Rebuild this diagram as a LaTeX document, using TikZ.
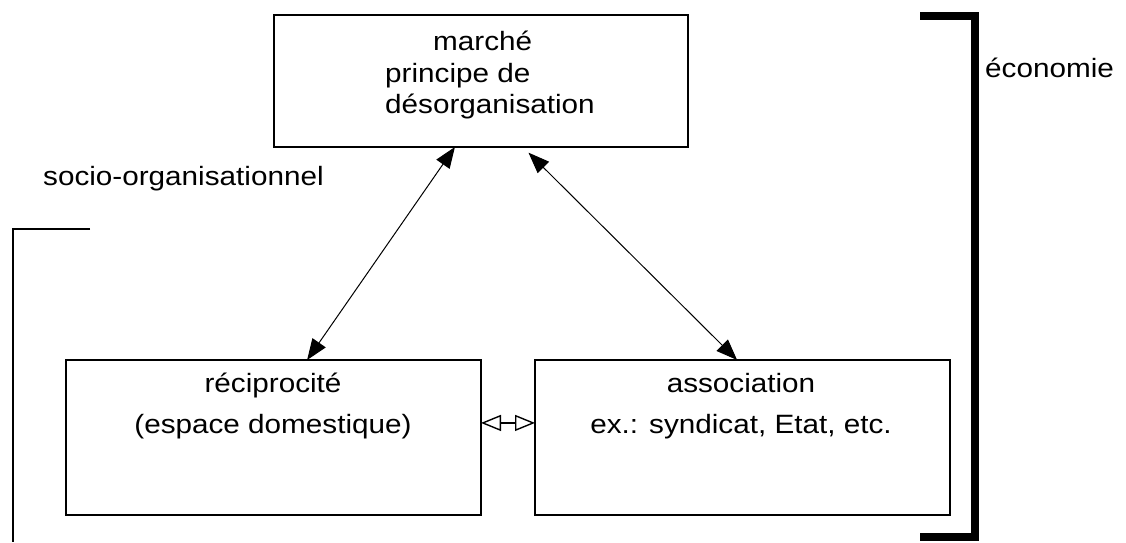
\documentclass[tikz,border=0pt]{standalone}
\usepackage{fontspec}
\setmainfont[FakeStretch=1.12]{Liberation Sans}
\usetikzlibrary{arrows.meta,calc}
\begin{document}
\begin{tikzpicture}[x=1pt,y=-1pt,
  box/.style={draw,line width=1.8pt,minimum width=414pt,inner sep=0pt,outer sep=0pt},
  txt/.style={anchor=base west,inner sep=0pt,font=\fontsize{26.5}{30}\selectfont},
  arr/.style={line width=1pt,{Triangle[length=21pt,width=16pt]}-{Triangle[length=21pt,width=16pt]}},
  oarr/.style={line width=1.4pt,{Triangle[open,length=20pt,width=16pt,line width=1.4pt]}-{Triangle[open,length=20pt,width=16pt,line width=1.4pt]}}]
\useasboundingbox (0,0) rectangle (1126,542);
% boxes
\node[box,minimum height=132pt] (top) at (481,81) {};
\node[box,minimum width=415pt,minimum height=155pt] (L) at (273.5,437.5) {};
\node[box,minimum width=415pt,minimum height=155pt] (R) at (742.5,437.5) {};
% texts
\node[txt] (t1) at (433,50) {marché};
\node[txt] (t2) at (385,82) {principe de};
\node[txt] (t3) at (385,113) {désorganisation};
\node[txt,anchor=base] (l1) at (273,392) {réciprocité};
\node[txt,anchor=base] (l2) at (273,433) {(espace domestique)};
\node[txt,anchor=base] (r1) at (741,392) {association};
\node[txt,anchor=base] (r2) at (741,433) {ex.: syndicat, Etat, etc.};
\node[txt] (soc) at (43,185) {socio-organisationnel};
\node[txt] (eco) at (985,77) {économie};
% brackets
\draw[line width=8pt,line join=miter] (920,16) -- (975,16) -- (975,537) -- (920,537);
\draw[line width=1.5pt] (90,229) -- (13,229) -- (13,542);
% connectors
\draw[arr] ($(top.south west)!0.437!(top.south east)$) -- ($(L.north west)!0.581!(L.north east)$);
\draw[arr,shorten <=8pt] ($(top.south west)!0.601!(top.south east)$) -- ($(R.north west)!0.487!(R.north east)$);
\coordinate (m) at ($(L.north east)!0.406!(L.south east)$);
\draw[oarr] (m) -- (m -| R.west);
\end{tikzpicture}
\end{document}
